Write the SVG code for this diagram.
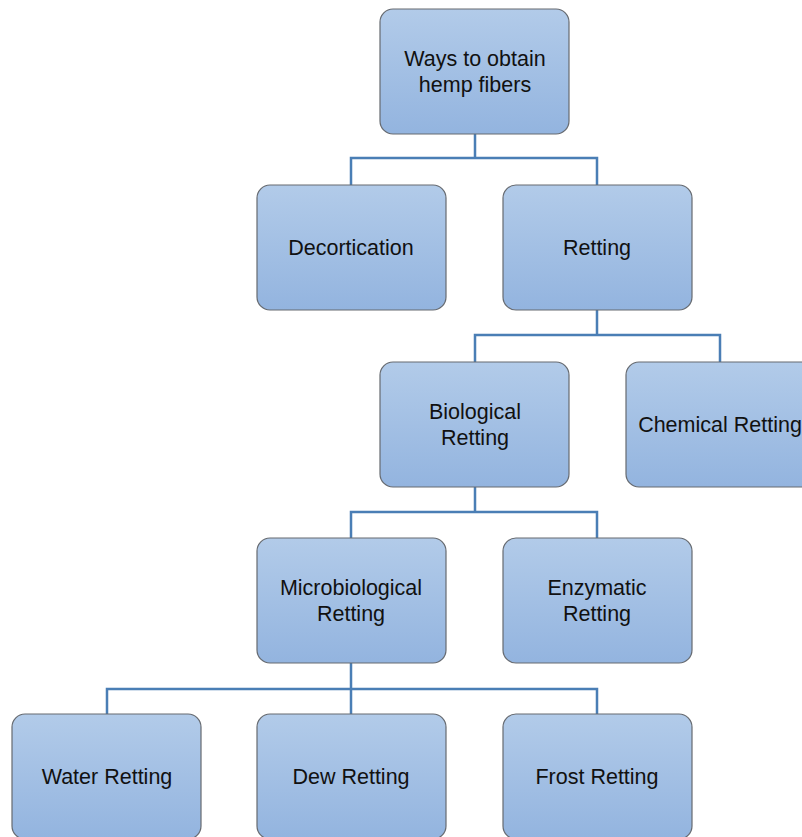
<svg xmlns="http://www.w3.org/2000/svg" width="802" height="837" viewBox="0 0 802 837">
<defs>
<linearGradient id="g" x1="0" y1="0" x2="0" y2="1">
<stop offset="0" stop-color="#b2cbe9"/>
<stop offset="1" stop-color="#93b4df"/>
</linearGradient>
<style>
.box{fill:url(#g);stroke:#666a70;stroke-width:1.2}
.t{font-family:"Liberation Sans",Arial,sans-serif;font-size:21.5px;fill:#111;text-anchor:middle}
.c{fill:none;stroke:#4a7eb5;stroke-width:2.5}
</style>
</defs>
<rect width="802" height="837" fill="#fff"/>
<g id="connectors">
<path class="c" d="M475 134V158M351 185V158H597V185"/>
<path class="c" d="M597 310V335M475 362V335H720V362"/>
<path class="c" d="M475 487V512M351 538V512H597V538"/>
<path class="c" d="M351 663V689M107 714V689H597V714M351 689V714"/>
</g>
<g id="n-root"><rect class="box" x="380" y="9" width="189" height="125" rx="13"/><text class="t" x="475" y="66">Ways to obtain</text><text class="t" x="475" y="92">hemp fibers</text></g>
<g id="n-decort"><rect class="box" x="257" y="185" width="189" height="125" rx="13"/><text class="t" x="351" y="255">Decortication</text></g>
<g id="n-retting"><rect class="box" x="503" y="185" width="189" height="125" rx="13"/><text class="t" x="597" y="255">Retting</text></g>
<g id="n-bio"><rect class="box" x="380" y="362" width="189" height="125" rx="13"/><text class="t" x="475" y="419">Biological</text><text class="t" x="475" y="445">Retting</text></g>
<g id="n-chem"><rect class="box" x="626" y="362" width="189" height="125" rx="13"/><text class="t" x="720" y="432">Chemical Retting</text></g>
<g id="n-micro"><rect class="box" x="257" y="538" width="189" height="125" rx="13"/><text class="t" x="351" y="595">Microbiological</text><text class="t" x="351" y="621">Retting</text></g>
<g id="n-enz"><rect class="box" x="503" y="538" width="189" height="125" rx="13"/><text class="t" x="597" y="595">Enzymatic</text><text class="t" x="597" y="621">Retting</text></g>
<g id="n-water"><rect class="box" x="12" y="714" width="189" height="125" rx="13"/><text class="t" x="107" y="784">Water Retting</text></g>
<g id="n-dew"><rect class="box" x="257" y="714" width="189" height="125" rx="13"/><text class="t" x="351" y="784">Dew Retting</text></g>
<g id="n-frost"><rect class="box" x="503" y="714" width="189" height="125" rx="13"/><text class="t" x="597" y="784">Frost Retting</text></g>
</svg>
